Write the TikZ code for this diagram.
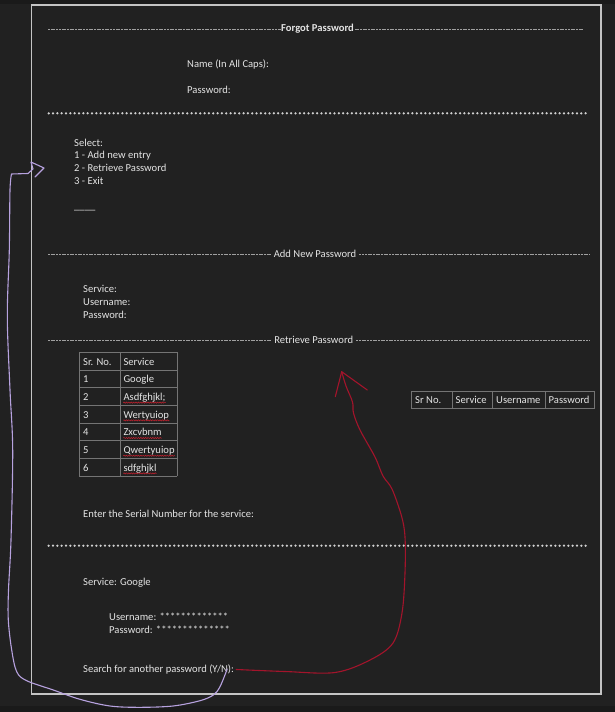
\documentclass[tikz,border=0pt]{standalone}
\usepackage{fontspec}
\setmainfont{Carlito}
\usetikzlibrary{decorations.pathmorphing}
\definecolor{bg}{HTML}{212121}
\definecolor{bgdark}{HTML}{1A1A1A}
\definecolor{ink}{HTML}{E4E4E4}
\definecolor{framecol}{HTML}{C4C4C4}
\definecolor{starcol}{HTML}{D0D0D0}
\definecolor{rulecol}{HTML}{A0A0A0}
\definecolor{gridcol}{HTML}{747474}
\definecolor{pen}{HTML}{B7A2DF}
\definecolor{redpen}{HTML}{A3142B}
\definecolor{spell}{HTML}{C8202E}
\begin{document}
\begin{tikzpicture}[x=1pt,y=-1pt,
  txt/.style={inner sep=0pt, anchor=base west, text=ink, font=\fontsize{10.6}{13}\selectfont},
  head/.style={inner sep=0pt, text=ink, font=\fontsize{10.6}{13}\selectfont},
  dashrule/.style={draw=rulecol, line width=0.75pt, dash pattern=on 2pt off 0.7pt},
  starrow/.style={draw=starcol, line width=2.5pt, line cap=round, dash pattern=on 0pt off 4.33pt},
  cellrule/.style={draw=gridcol, line width=0.8pt},
  spellmark/.style={draw=spell, line width=0.5pt, decorate, decoration={snake, segment length=2.4pt, amplitude=0.6pt}},
  sketch/.style={line width=1.1pt, line cap=round, line join=round},
]
% page and frame
\fill[bg] (0,0) rectangle (615,712);
\fill[bgdark] (0,0) rectangle (615,3.5);
\fill[bgdark] (0,706) rectangle (615,712);
\useasboundingbox (0,0) rectangle (615,712);
\draw[framecol, line width=1.5pt] (31.5,5) rectangle (601,694);

% --- Forgot Password ---
\node[head, font=\bfseries\fontsize{10.6}{13}\selectfont, inner xsep=0.5pt] (forgot) at (317.5,29) {Forgot Password};
\coordinate (forgot-l) at (48,29);
\coordinate (forgot-r) at (584,29);
\draw[dashrule] (forgot-l) -- (forgot.west);
\draw[dashrule] (forgot.east) -- (forgot-r);
\node[txt] (name) at (187,67) {Name (In All Caps):};
\node[txt] (pw1) at (187,93.5) {Password:};
\coordinate (stars1-l) at (48.7,113.3);
\coordinate (stars1-r) at (589.5,113.3);
\draw[starrow] (stars1-l) -- (stars1-r);

% menu
\node[txt] (select) at (74,146) {Select:};
\node[txt] (opt1) at (74,158.8) {1 - Add new entry};
\node[txt] (opt2) at (74,171.6) {2 - Retrieve Password};
\node[txt] (opt3) at (74,184.4) {3 - Exit};
\node[txt] (choice) at (74,209) {\_\_\_\_};

% --- Add New Password ---
\node[head, inner xsep=3pt] (addhead) at (315,254) {Add New Password};
\coordinate (add-l) at (48,254);
\coordinate (add-r) at (589,254);
\draw[dashrule] (add-l) -- (addhead.west);
\draw[dashrule] (addhead.east) -- (add-r);
\node[txt] (asvc) at (83,292) {Service:};
\node[txt] (auser) at (83,305) {Username:};
\node[txt] (apw) at (83,318) {Password:};

% --- Retrieve Password ---
\node[head, inner xsep=3pt] (rethead) at (313.7,340) {Retrieve Password};
\coordinate (ret-l) at (48,340);
\coordinate (ret-r) at (589,340);
\draw[dashrule] (ret-l) -- (rethead.west);
\draw[dashrule] (rethead.east) -- (ret-r);

% service list table
\foreach \k in {0,...,7} {
  \draw[cellrule] (79,352.3+\k*17.7) -- (177,352.3+\k*17.7);
}
\draw[cellrule] (79,352.3) -- (79,476.2);
\draw[cellrule] (120,352.3) -- (120,476.2);
\draw[cellrule] (177,352.3) -- (177,476.2);
\node[txt] (th1) at (83,365) {Sr. No.};
\node[txt] (th2) at (123.3,365) {Service};
\foreach \n/\s [count=\k] in {1/Google,2/Asdfghjkl;,3/Wertyuiop,4/Zxcvbnm,5/Qwertyuiop,6/sdfghjkl} {
  \node[txt] (no\k) at (83,365+\k*17.7) {\n};
  \node[txt] (sv\k) at (123.3,365+\k*17.7) {\s};
}
\foreach \k in {2,...,6} {
  \draw[spellmark] ([yshift=-2.2pt]sv\k.base west) -- ([yshift=-2.2pt]sv\k.base east);
}

% record table header
\draw[cellrule] (411,391) rectangle (594,408.5);
\draw[cellrule] (452,391) -- (452,408.5);
\draw[cellrule] (492,391) -- (492,408.5);
\draw[cellrule] (545,391) -- (545,408.5);
\node[txt] (rh1) at (415,403.8) {Sr No.};
\node[txt] (rh2) at (455.5,403.8) {Service};
\node[txt] (rh3) at (496,403.8) {Username};
\node[txt] (rh4) at (548.5,403.8) {Password};

\node[txt] (enter) at (83,517) {Enter the Serial Number for the service:};
\coordinate (stars2-l) at (48.7,545.7);
\coordinate (stars2-r) at (589.5,545.7);
\draw[starrow] (stars2-l) -- (stars2-r);

% result
\node[txt] (rsvc) at (83,585.5) {Service: Google};
\node[txt] (ruser) at (109,620) {Username: *************};
\node[txt] (rpw) at (109,633) {Password: **************};
\node[txt] (search) at (83,672.5) {Search for another password (Y/N):};

% hand-drawn loop back to the retrieve section
\coordinate (red-start) at ([xshift=2pt]search.east);
\coordinate (red-tip) at (341.7,371.7);
\draw[sketch, redpen] plot[smooth, tension=0.55] coordinates {(red-start) (285,671.5) (335,672.5) (370,660) (393,643) (402,613) (405,573) (405,537) (401.5,516) (392,489) (383,476) (375,457) (360,430) (353.5,413) (352.5,402) (346,386) (red-tip)};
\draw[sketch, redpen] (335.3,396.7) -- (red-tip) -- (367.3,390);

% hand-drawn loop back to the menu
\coordinate (loop-start) at ([xshift=-7pt,yshift=0.5pt]search.east);
\coordinate (loop-corner) at (11.5,174);
\draw[sketch, pen] plot[smooth, tension=0.55] coordinates {(loop-start) (220,686.7) (213.3,695) (200,700.7) (173,706) (140,707.3) (110,706) (80,699.3) (53.3,690) (26.7,680.7) (16.7,671.7) (11.7,650) (8.3,620) (8.5,590) (11,540) (12.7,450) (10,390) (7.3,317) (9.3,250) (10,190) (loop-corner)}
  -- (28,173.5) -- (33,169) -- (31,162) -- (44,168) -- (35,177);
\end{tikzpicture}
\end{document}
